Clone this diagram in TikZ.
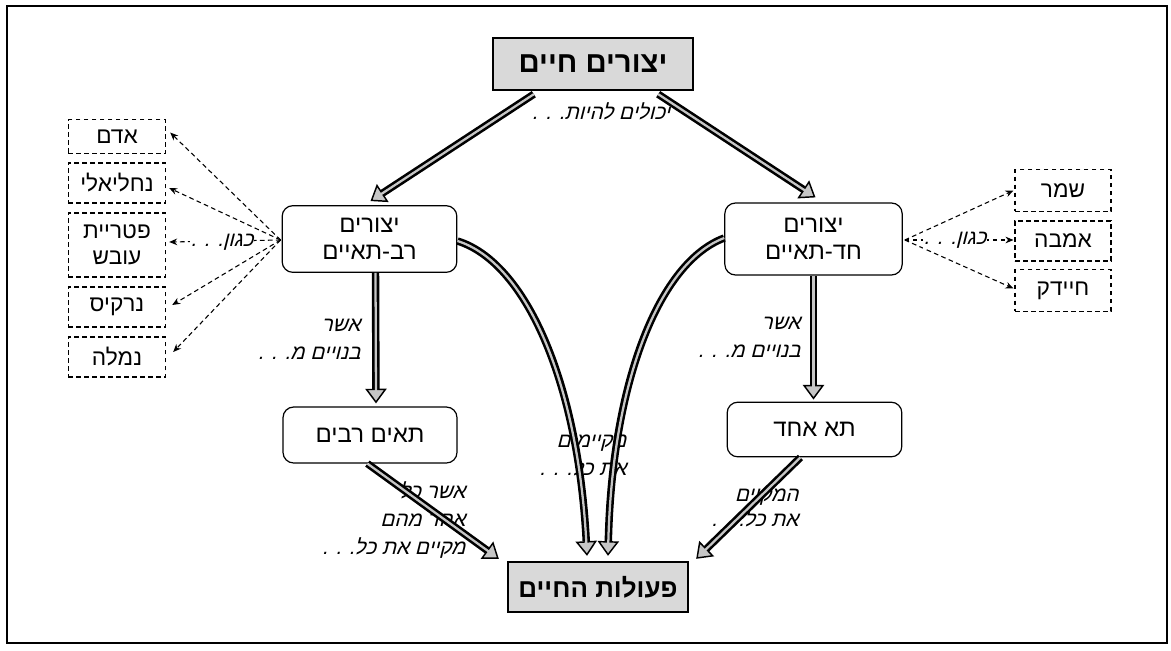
\documentclass[tikz,border=0pt]{standalone}
\usepackage{fontspec}
\TeXXeTstate=1
\newfontfamily\heb[Script=Hebrew]{Liberation Sans}
\newfontfamily\hebit[Script=Hebrew,FakeSlant=0.25]{Liberation Sans}
\usetikzlibrary{arrows.meta,calc}
\tikzset{
  mainbox/.style={draw, line width=1.8pt, fill=gray!30, font=\heb\bfseries\fontsize{21}{24}\selectfont, inner sep=0pt},
  roundbox/.style={draw, line width=0.9pt, rounded corners=8pt, fill=white, font=\heb\fontsize{18}{20}\selectfont, align=center, inner sep=0pt},
  dashbox/.style={draw, dashed, dash pattern=on 3.5pt off 2.5pt, line width=0.8pt, minimum width=73pt, font=\heb\fontsize{17}{19.5}\selectfont, align=center, inner sep=0pt},
  lab/.style={font=\hebit\fontsize{15.5}{21}\selectfont, align=right, inner sep=1pt},
  thickarr/.style={draw=black, line width=5.6pt,
    -{Triangle[length=11pt,width=16pt,line width=1.1pt,fill=gray!45]},
    postaction={draw=gray!45, line width=1.7pt, arrows=-, shorten >=9pt}},
  dasharr/.style={draw, dashed, dash pattern=on 3.5pt off 2.5pt, line width=0.8pt, -{Stealth[length=6pt,width=5pt]}},
}
\begin{document}
\begin{tikzpicture}[x=0.75pt,y=-0.75pt]
\useasboundingbox (0,0) rectangle (1171,650);
\draw[line width=0.8pt] (7,6) rectangle (1167,643);

% main nodes
\node[mainbox, minimum width=150pt, minimum height=39pt, font=\heb\bfseries\fontsize{22}{24}\selectfont] (T) at (593,64) {\beginR יצורים חיים\endR};
\node[mainbox, minimum width=135pt, minimum height=37.5pt, font=\heb\bfseries\fontsize{19.5}{24}\selectfont] (B) at (598,587) {\beginR פעולות החיים\endR};
\node[roundbox, minimum width=131pt, minimum height=50pt] (L) at (369.5,239) {\beginR יצורים\endR\\\beginR רב-תאיים\endR};
\node[roundbox, minimum width=133pt, minimum height=54pt] (R) at (813.5,239) {\beginR יצורים\endR\\\beginR חד-תאיים\endR};
\node[roundbox, minimum width=130.5pt, minimum height=42pt] (LC) at (370,435) {\beginR תאים רבים\endR};
\node[roundbox, minimum width=131pt, minimum height=41pt] (RC) at (814.5,429.5) {\beginR תא אחד\endR};

% example boxes
\node[dashbox, minimum height=25pt] (adam) at (117,136.5) {\beginR אדם\endR};
\node[dashbox, minimum height=30pt] (nachl) at (117,183) {\beginR נחליאלי\endR};
\node[dashbox, minimum height=48pt] (ptr) at (117,245) {\beginR פטריית\endR\\\beginR עובש\endR};
\node[dashbox, minimum height=30pt] (narkis) at (117,307) {\beginR נרקיס\endR};
\node[dashbox, minimum height=30pt] (nemala) at (117,357) {\beginR נמלה\endR};
\node[dashbox, minimum width=72pt, minimum height=31pt] (shmar) at (1063,190.5) {\beginR שמר\endR};
\node[dashbox, minimum width=72pt, minimum height=30pt] (ameba) at (1063,241) {\beginR אמבה\endR};
\node[dashbox, minimum width=72pt, minimum height=31pt] (chaidak) at (1063,290.5) {\beginR חיידק\endR};

% labels (drawn before arrows, which cover them)
\node[lab] (l1) at (601,111) {\beginR יכולים להיות. . .\endR};
\node[lab, anchor=east] (l2) at (362,339) {\beginR אשר\endR\\\beginR בנויים מ. . .\endR};
\node[lab, anchor=east] (l3) at (802,337) {\beginR אשר\endR\\\beginR בנויים מ. . .\endR};
\node[lab, anchor=east] (l4) at (628,455) {\beginR מקיימים\endR\\\beginR את כל. . .\endR};
\node[lab, anchor=east] (l5) at (467,520) {\beginR אשר כל\endR\\\beginR אחד מהם\endR\\\beginR מקיים את כל. . .\endR};
\node[lab, anchor=east, font=\hebit\fontsize{15.5}{18.5}\selectfont] (l6) at (800,508) {\beginR המקיים\endR\\\beginR את כל. . .\endR};

% dashed example arrows
\coordinate (ls) at ($(L.west)+(-1,1)$);
\coordinate (rs) at ($(R.east)+(2,1)$);
\draw[dasharr] (ls) -- ($(adam.east)+(4,-4)$);
\draw[dasharr] (ls) -- ($(nachl.east)+(3,5)$);
\draw[dasharr] (ls) -- ($(ptr.east)+(3,-3)$);
\draw[dasharr] (ls) -- ($(narkis.east)+(6,-2)$);
\draw[dasharr] (ls) -- ($(nemala.east)+(7,-5)$);
\draw[dasharr] (rs) -- ($(shmar.west)+(-1,0)$) ;
\draw[dasharr] (rs) -- ($(ameba.west)+(-1,-1)$);
\draw[dasharr] (rs) -- ($(chaidak.west)+(-1,-2)$);
\node[lab, fill=white, inner sep=0.5pt] (k1) at (222,242) {\beginR כגון. . .\endR};
\node[lab, fill=white, inner sep=0.5pt] (k2) at (955,240) {\beginR כגון. . .\endR};

% thick arrows
\draw[thickarr] ($(T.south west)+(42,3)$) -- ($(L.north)+(1,-4)$);
\draw[thickarr] ($(T.south east)+(-36,3)$) -- ($(R.north)+(2,-5)$);
\draw[thickarr] ($(L.south)+(6,0)$) -- ($(LC.north)+(6,-3)$);
\draw[thickarr] (R.south) -- ($(RC.north)+(-1,-2)$);
\draw[thickarr] ($(L.east)+(0,2)$) .. controls (525,262) and (578,380) .. ($(B.north)+(-11,-5)$);
\draw[thickarr] ($(R.west)+(0,-1)$) .. controls (660,262) and (612,380) .. ($(B.north)+(10,-5)$);
\draw[thickarr] ($(LC.south west)+(85,0)$) -- ($(B.north west)+(-8,-2)$);
\draw[thickarr] ($(RC.south east)+(-102,0)$) -- ($(B.north east)+(7,-2)$);
\end{tikzpicture}
\end{document}
